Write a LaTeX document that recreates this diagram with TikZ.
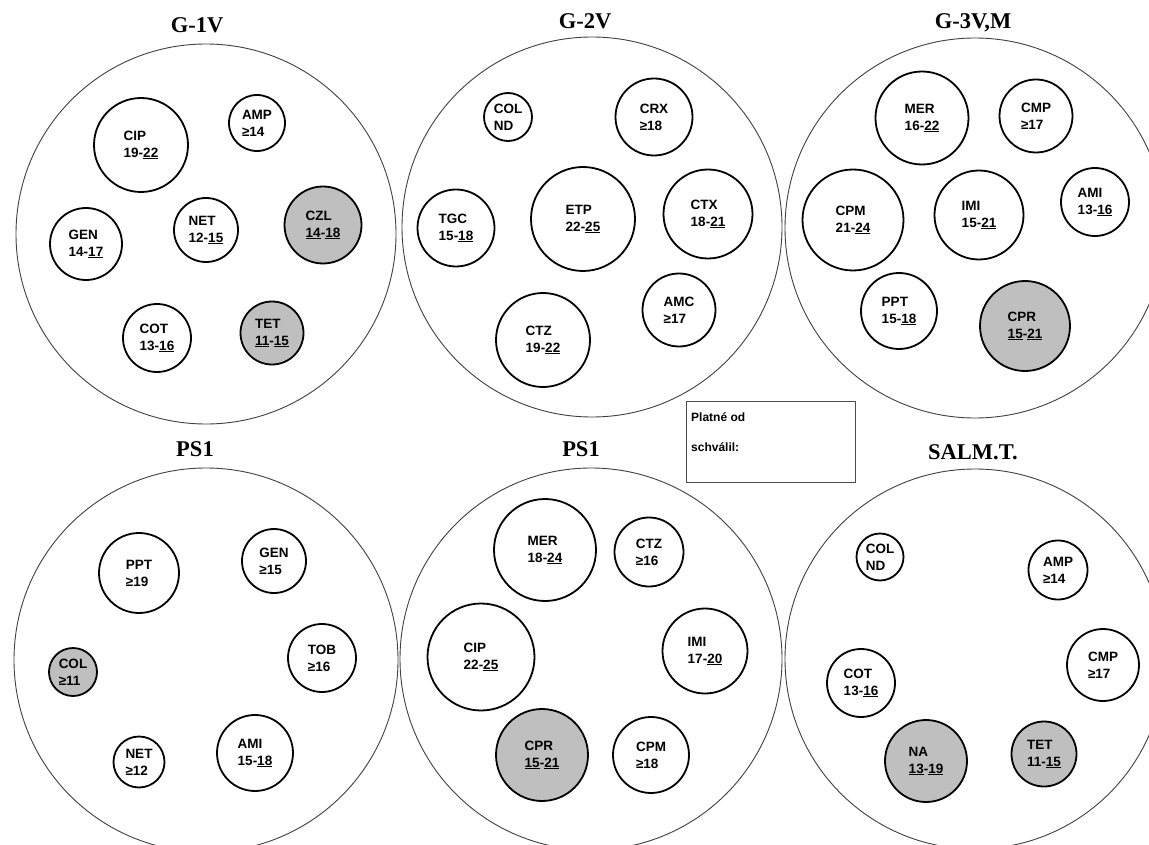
\documentclass[tikz,border=0pt]{standalone}
\usepackage{fontspec}
\setmainfont{Liberation Sans}
\newfontfamily\titlefont{Liberation Serif}
\tikzset{
  plate/.style={circle,draw=black!75,line width=0.9pt,inner sep=0pt},
  disk/.style={circle,draw=black,line width=1.8pt,inner sep=0pt,fill=white},
  grey/.style={fill=black!25},
  wht/.style={fill=white},
  lbl/.style={align=left,font=\bfseries\fontsize{13.5}{17}\selectfont,inner sep=0pt},
  ttl/.style={font=\titlefont\bfseries\fontsize{22.5}{24}\selectfont,inner sep=0pt},
}
\newcommand\dsk[6]{\node[disk,#5,minimum size={2*#4 pt}] (#1) at (#2,#3) {};
  \node[lbl] (#1t) at (#1.center) {#6};}
\begin{document}
\begin{tikzpicture}[x=1pt,y=-1pt]
\useasboundingbox (0,0) rectangle (1149,845);
\clip (0,0) rectangle (1149,845);
\fill[white] (0,0) rectangle (1149,845);
% plates
\node[plate,minimum size=380pt] (pA) at (206,234) {};
\node[plate,minimum size=380pt] (pB) at (592,227) {};
\node[plate,minimum size=380pt] (pC) at (975,228) {};
\node[plate,minimum size=384pt] (pD) at (206,660) {};
\node[plate,minimum size=382pt] (pE) at (591,659) {};
\node[plate,minimum size=380pt] (pF) at (975,659) {};
% titles
\node[ttl] (tA) at (197,25) {G-1V};
\node[ttl] (tB) at (585,21) {G-2V};
\node[ttl] (tC) at (973,23) {G-3V,M};
\node[ttl] (tD) at (195,449) {PS1};
\node[ttl] (tE) at (581,449) {PS1};
\node[ttl] (tF) at (973,452) {SALM.T.};
% box
\node[draw=black!70,line width=0.9pt,minimum width=169pt,minimum height=81pt,inner sep=0pt] (box) at (770.5,441.5) {};
\node[anchor=west,font=\bfseries\fontsize{12}{13}\selectfont,inner sep=0pt] (bx1) at (691,417) {Platné od};
\node[anchor=west,font=\bfseries\fontsize{12}{13}\selectfont,inner sep=0pt] (bx2) at (691,447) {schválil:};
% plate A
\dsk{aCIP}{141}{145}{47}{wht}{CIP\\19-\underline{22}}
\dsk{aAMP}{257}{123}{28}{wht}{AMP\\≥14}
\dsk{aGEN}{86}{244}{36}{wht}{GEN\\14-\underline{17}}
\dsk{aNET}{206}{230}{32}{wht}{NET\\12-\underline{15}}
\dsk{aCZL}{323}{225}{38.5}{grey}{CZL\\\underline{14}-\underline{18}}
\dsk{aCOT}{157}{338}{34}{wht}{COT\\13-\underline{16}}
\dsk{aTET}{272}{333}{31.5}{grey}{TET\\\underline{11}-\underline{15}}
% plate B
\dsk{bCOL}{508}{117}{24}{wht}{COL\\ND}
\dsk{bCRX}{654}{117}{38.5}{wht}{CRX\\≥18}
\dsk{bTGC}{456}{228}{38.5}{wht}{TGC\\15-\underline{18}}
\dsk{bETP}{583}{219}{52}{wht}{ETP\\22-\underline{25}}
\dsk{bCTX}{708}{214}{44.5}{wht}{CTX\\18-\underline{21}}
\dsk{bAMC}{679}{310}{36.5}{wht}{AMC\\≥17}
\dsk{bCTZ}{543}{340}{47}{wht}{CTZ\\19-\underline{22}}
% plate C
\dsk{cMER}{922}{118}{46.5}{wht}{MER\\16-\underline{22}}
\dsk{cCMP}{1036}{116}{36.5}{wht}{CMP\\≥17}
\dsk{cCPM}{853}{220}{50.5}{wht}{CPM\\21-\underline{24}}
\dsk{cIMI}{979}{215}{44.5}{wht}{IMI\\15-\underline{21}}
\dsk{cAMI}{1095}{202}{34}{wht}{AMI\\13-\underline{16}}
\dsk{cPPT}{899}{311}{38}{wht}{PPT\\15-\underline{18}}
\dsk{cCPR}{1025}{326}{45}{grey}{CPR\\\underline{15}-\underline{21}}
% plate D
\dsk{dPPT}{139}{573}{40}{wht}{PPT\\≥19}
\dsk{dGEN}{274}{561}{32}{wht}{GEN\\≥15}
\dsk{dTOB}{322}{658}{34}{wht}{TOB\\≥16}
\dsk{dCOL}{73}{672}{24}{grey}{COL\\≥11}
\dsk{dNET}{139}{762}{25.5}{wht}{NET\\≥12}
\dsk{dAMI}{255}{753}{38}{wht}{AMI\\15-\underline{18}}
% plate E
\dsk{eMER}{545}{550}{51}{wht}{MER\\18-\underline{24}}
\dsk{eCTZ}{649}{552}{34.5}{wht}{CTZ\\≥16}
\dsk{eCIP}{481}{657}{53.5}{wht}{CIP\\22-\underline{25}}
\dsk{eIMI}{705}{651}{42.5}{wht}{IMI\\17-\underline{20}}
\dsk{eCPR}{542}{755}{46}{grey}{CPR\\\underline{15}-\underline{21}}
\dsk{eCPM}{651}{755}{38}{wht}{CPM\\≥18}
% plate F
\dsk{fCOL}{880}{557}{23.5}{wht}{COL\\ND}
\dsk{fAMP}{1058}{570}{29.5}{wht}{AMP\\≥14}
\dsk{fCMP}{1103}{665}{36}{wht}{CMP\\≥17}
\dsk{fCOT}{861}{683}{34}{wht}{COT\\13-\underline{16}}
\dsk{fNA}{926}{761}{41}{grey}{NA\\\underline{13}-\underline{19}}
\dsk{fTET}{1044}{754}{32.5}{grey}{TET\\11-\underline{15}}
\end{tikzpicture}
\end{document}
